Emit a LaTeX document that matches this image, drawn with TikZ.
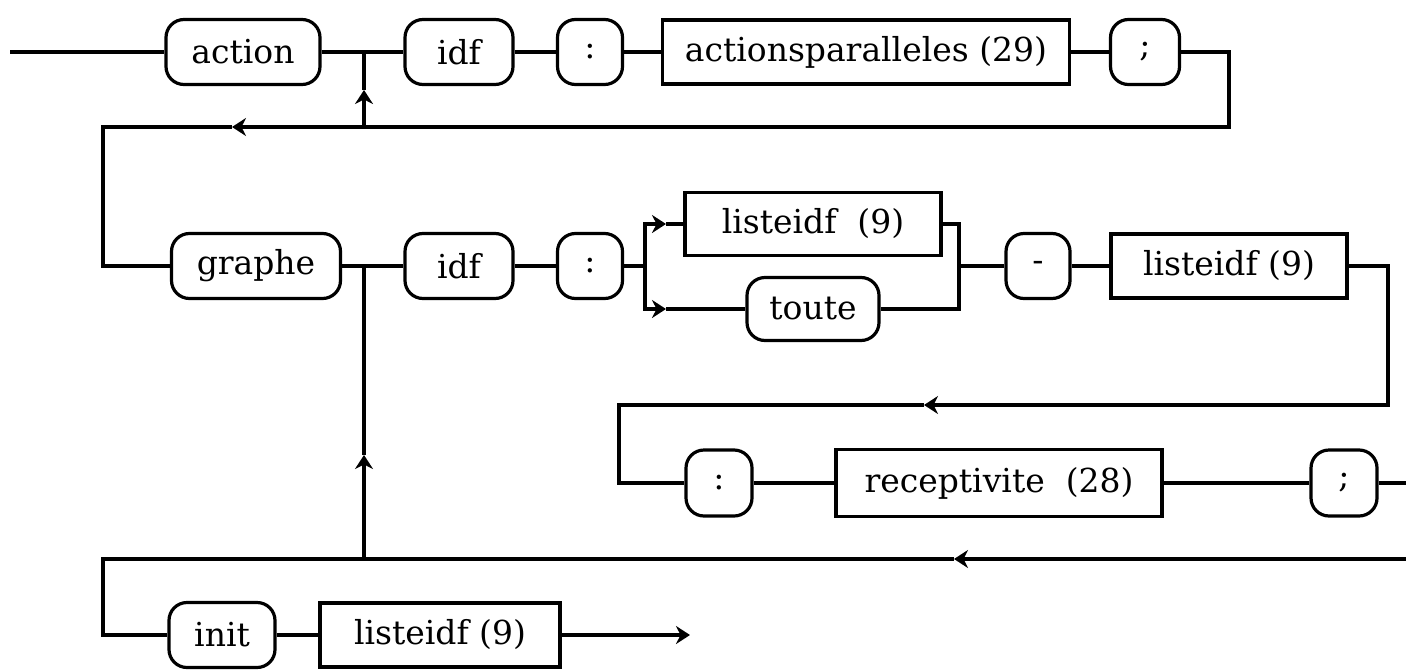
\documentclass[tikz,border=0pt]{standalone}
\usepackage{fontspec}
\setmainfont{DejaVu Serif}
\usetikzlibrary{positioning,arrows.meta}

\begin{document}
\begin{tikzpicture}[
  x=0.5pt, y=-0.5pt,
  font=\fontsize{16.5}{18}\selectfont,
  terminal/.style={rectangle, rounded corners=9pt, draw, line width=1.6pt, minimum height=32.5pt, inner sep=0pt},
  regle/.style={rectangle, draw, line width=1.6pt, minimum height=32pt, inner sep=0pt},
  ligne/.style={line width=1.6pt},
  fleche/.style={-{Stealth[length=7pt, width=9pt]}, line width=1.6pt}
]
\useasboundingbox (0,0) rectangle (1406,669);
% ligne 1
\node[terminal, minimum width=77pt] (action) at (243,52) {action};
\node[terminal, minimum width=54pt] (idfa) at (459,52) {idf};
\node[terminal, minimum width=32.5pt] (dpa) at (590,52) {:};
\node[regle, minimum width=203.5pt] (actpar) at (866,52) {actionsparalleles (29)};
\node[terminal, minimum width=34.5pt] (pva) at (1145,52) {;};
% ligne 2
\node[terminal, minimum width=84.5pt] (graphe) at (256,266) {graphe};
\node[terminal, minimum width=54pt] (idfb) at (459,266) {idf};
\node[terminal, minimum width=32.5pt] (dpb) at (590,266) {:};
\node[regle, minimum width=128pt, minimum height=31.5pt] (lista) at (813,224) {listeidf~~(9)};
\node[terminal, minimum width=66pt, minimum height=31.5pt] (toute) at (813,309) {toute};
\node[terminal, minimum width=32pt] (tiret) at (1038,266) {-};
\node[regle, minimum width=118pt] (listb) at (1229,266) {listeidf (9)};
% ligne 3
\node[terminal, minimum width=33pt, minimum height=33pt] (dpc) at (719,483) {:};
\node[regle, minimum width=163pt, minimum height=33.5pt] (recept) at (999,483) {receptivite~~(28)};
\node[terminal, minimum width=33pt, minimum height=33pt] (pvb) at (1344,483) {;};
% ligne 4
\node[terminal, minimum width=53pt] (init) at (222,635) {init};
\node[regle, minimum width=120pt] (listc) at (440,635) {listeidf (9)};

\coordinate (depart) at (10,52);
\coordinate (j1) at (364,52);
\coordinate (fa) at (364,90);
\coordinate (j1b) at (364,127);
\coordinate (r1) at (1229,52);
\coordinate (r1b) at (1229,127);
\coordinate (fb) at (232,127);
\coordinate (l1) at (103,127);
\coordinate (l1b) at (103,266);
\coordinate (j2) at (364,266);
\coordinate (bif) at (645,266);
\coordinate (bifh) at (645,224);
\coordinate (bifb) at (645,309);
\coordinate (fc) at (666,224);
\coordinate (fd) at (666,309);
\coordinate (fus) at (959,266);
\coordinate (r2) at (1388,266);
\coordinate (r2b) at (1388,405);
\coordinate (fe) at (924,405);
\coordinate (l2) at (619,405);
\coordinate (l2b) at (619,483);
\coordinate (sortie) at (1406,483);
\coordinate (retour) at (1406,559);
\coordinate (ff) at (954,559);
\coordinate (j3) at (364,559);
\coordinate (fg) at (364,455);
\coordinate (l3) at (103,559);
\coordinate (l3b) at (103,635);
\coordinate (fin) at (690,635);

\draw[ligne] (depart) -- (action);
\draw[ligne] (action) -- (idfa);
\draw[ligne] (idfa) -- (dpa);
\draw[ligne] (dpa) -- (actpar);
\draw[ligne] (actpar) -- (pva);
\draw[fleche] (pva) -- (r1) -- (r1b) -- (fb);
\draw[ligne] (fb) -- (l1) -- (l1b) -- (graphe);
\draw[fleche] (j1b) -- (fa);
\draw[ligne] (fa) -- (j1);

\draw[ligne] (graphe) -- (idfb);
\draw[ligne] (idfb) -- (dpb);
\draw[ligne] (dpb) -- (bif);
\draw[fleche] (bif) -- (bifh) -- (fc);
\draw[ligne] (fc) -- (lista);
\draw[fleche] (bif) -- (bifb) -- (fd);
\draw[ligne] (fd) -- (toute);
\draw[ligne] (lista) -| (fus) |- (toute);
\draw[ligne] (fus) -- (tiret);
\draw[ligne] (tiret) -- (listb);
\draw[fleche] (listb) -- (r2) -- (r2b) -- (fe);
\draw[ligne] (fe) -- (l2) -- (l2b) -- (dpc);

\draw[ligne] (dpc) -- (recept);
\draw[ligne] (recept) -- (pvb);
\draw[ligne] (pvb) -- (sortie);
\draw[fleche] (retour) -- (ff);
\draw[ligne] (ff) -- (l3) -- (l3b) -- (init);
\draw[fleche] (j3) -- (fg);
\draw[ligne] (fg) -- (j2);

\draw[ligne] (init) -- (listc);
\draw[fleche] (listc) -- (fin);
\end{tikzpicture}
\end{document}
